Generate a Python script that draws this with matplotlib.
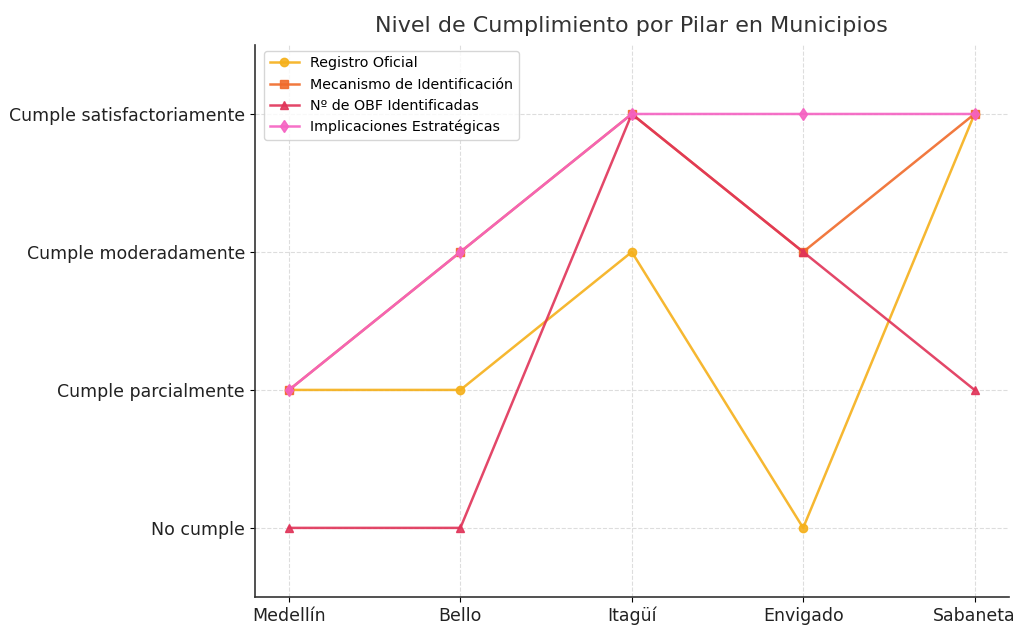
import matplotlib
matplotlib.use("Agg")
import matplotlib.pyplot as plt

municipios = ["Medellín", "Bello", "Itagüí", "Envigado", "Sabaneta"]
niveles = ["No cumple", "Cumple parcialmente", "Cumple moderadamente", "Cumple satisfactoriamente"]
registro_oficial = [1, 1, 2, 0, 3]
mecanismo = [1, 2, 3, 2, 3]
obf = [0, 0, 3, 2, 1]
implicaciones = [1, 2, 3, 3, 3]

series = [
    ("Registro Oficial", registro_oficial, "o", "#f5b01a"),
    ("Mecanismo de Identificación", mecanismo, "s", "#f06a2a"),
    ("Nº de OBF Identificadas", obf, "^", "#e03358"),
    ("Implicaciones Estratégicas", implicaciones, "d", "#f562c2"),
]

fig = plt.figure(figsize=(10.19, 6.25), dpi=100)
ax = fig.add_axes([0.25, 0.045, 0.74, 0.883])
x = list(range(len(municipios)))
for label, vals, m, c in series:
    ax.plot(x, vals, marker=m, color=c, label=label, linewidth=1.8, markersize=6, alpha=0.9)

ax.set_xticks(x)
ax.set_xticklabels(municipios, fontsize=12.5, color="#222222")
ax.set_yticks(range(len(niveles)))
ax.set_yticklabels(niveles, fontsize=12.5, color="#222222")
ax.set_xlim(-0.2, 4.2)
ax.set_ylim(-0.5, 3.5)
ax.grid(True, linestyle="--", color="#dddddd", linewidth=0.8)
ax.spines["top"].set_visible(False)
ax.spines["right"].set_visible(False)
for s in ("left", "bottom"):
    ax.spines[s].set_color("#333333")
    ax.spines[s].set_linewidth(1.2)
ax.set_title("Nivel de Cumplimiento por Pilar en Municipios", fontsize=16, color="#333333", pad=9)
ax.legend(loc="upper left", fontsize=10.3, frameon=True, borderaxespad=0.4,
          bbox_to_anchor=(0.005, 1.0))
fig.savefig("out.png", dpi=100)
